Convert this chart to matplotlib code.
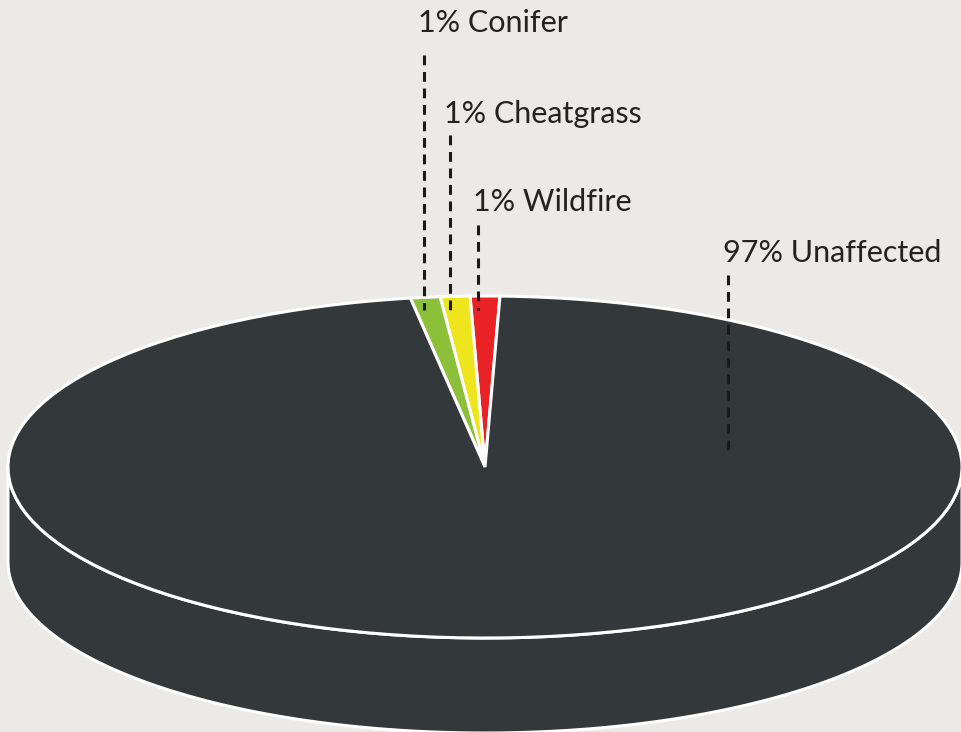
import numpy as np
import matplotlib
matplotlib.use("Agg")
import matplotlib.pyplot as plt
from matplotlib.patches import Polygon
from matplotlib.transforms import Affine2D

# data
categories = ["Wildfire", "Cheatgrass", "Conifer", "Unaffected"]
shares = [1, 1, 1, 97]
colors = ["#e92226", "#efe51f", "#8cbf3a", "#33383a"]

W, H = 961, 732
bg = "#ebeae6"
dark = "#33383a"

plt.rcParams["font.family"] = ["Lato", "DejaVu Sans"]

fig = plt.figure(figsize=(W / 100, H / 100), dpi=100, facecolor=bg)
ax = fig.add_axes([0, 0, 1, 1])
ax.set_facecolor(bg)

# pie geometry (pixel units, y measured up from the bottom)
cx, cy = 485, H - 467
a, b = 477, 171
depth = 95

# side of the disc (front half only)
t = np.linspace(np.pi, 2 * np.pi, 200)
top = np.column_stack([cx + a * np.cos(t), cy + b * np.sin(t)])
bot = np.column_stack([cx + a * np.cos(t), cy + b * np.sin(t) - depth])
side = Polygon(np.vstack([top, bot[::-1]]), closed=True, facecolor=dark,
               edgecolor="white", linewidth=2.2, zorder=1)
ax.add_patch(side)

# top of the disc: a pie squashed into an ellipse
start = 90 - shares[0] * 360 / sum(shares) / 2
wedges, _ = ax.pie(shares, colors=colors, startangle=start, counterclock=True,
                   radius=a, center=(cx, cy),
                   wedgeprops=dict(edgecolor="white", linewidth=2.2))
squash = Affine2D().translate(-cx, -cy).scale(1, b / a).translate(cx, cy)
for w in wedges:
    w.set_transform(squash + ax.transData)
    w.set_zorder(2)

ax.set_aspect("auto")
ax.set_xlim(0, W)
ax.set_ylim(0, H)
ax.axis("off")

# labels with dashed leaders (pixel positions from the top)
labels = ["1% Wildfire", "1% Cheatgrass", "1% Conifer", "97% Unaffected"]
text_pos = [(473, 211), (444, 123), (418, 32), (723, 262)]
line_x = [478, 450, 424, 728]
line_y = [(225, 310), (135, 310), (55, 310), (275, 455)]

for lab, (tx, ty), lx, (y0, y1) in zip(labels, text_pos, line_x, line_y):
    ax.text(tx, H - ty, lab, fontsize=22, color="#222222", ha="left",
            va="baseline", zorder=5)
    ax.plot([lx, lx], [H - y0, H - y1], color="#1a1a1a", linewidth=2.2,
            linestyle=(0, (3.2, 2.2)), zorder=4)

fig.savefig("out.png", dpi=100, facecolor=bg)
